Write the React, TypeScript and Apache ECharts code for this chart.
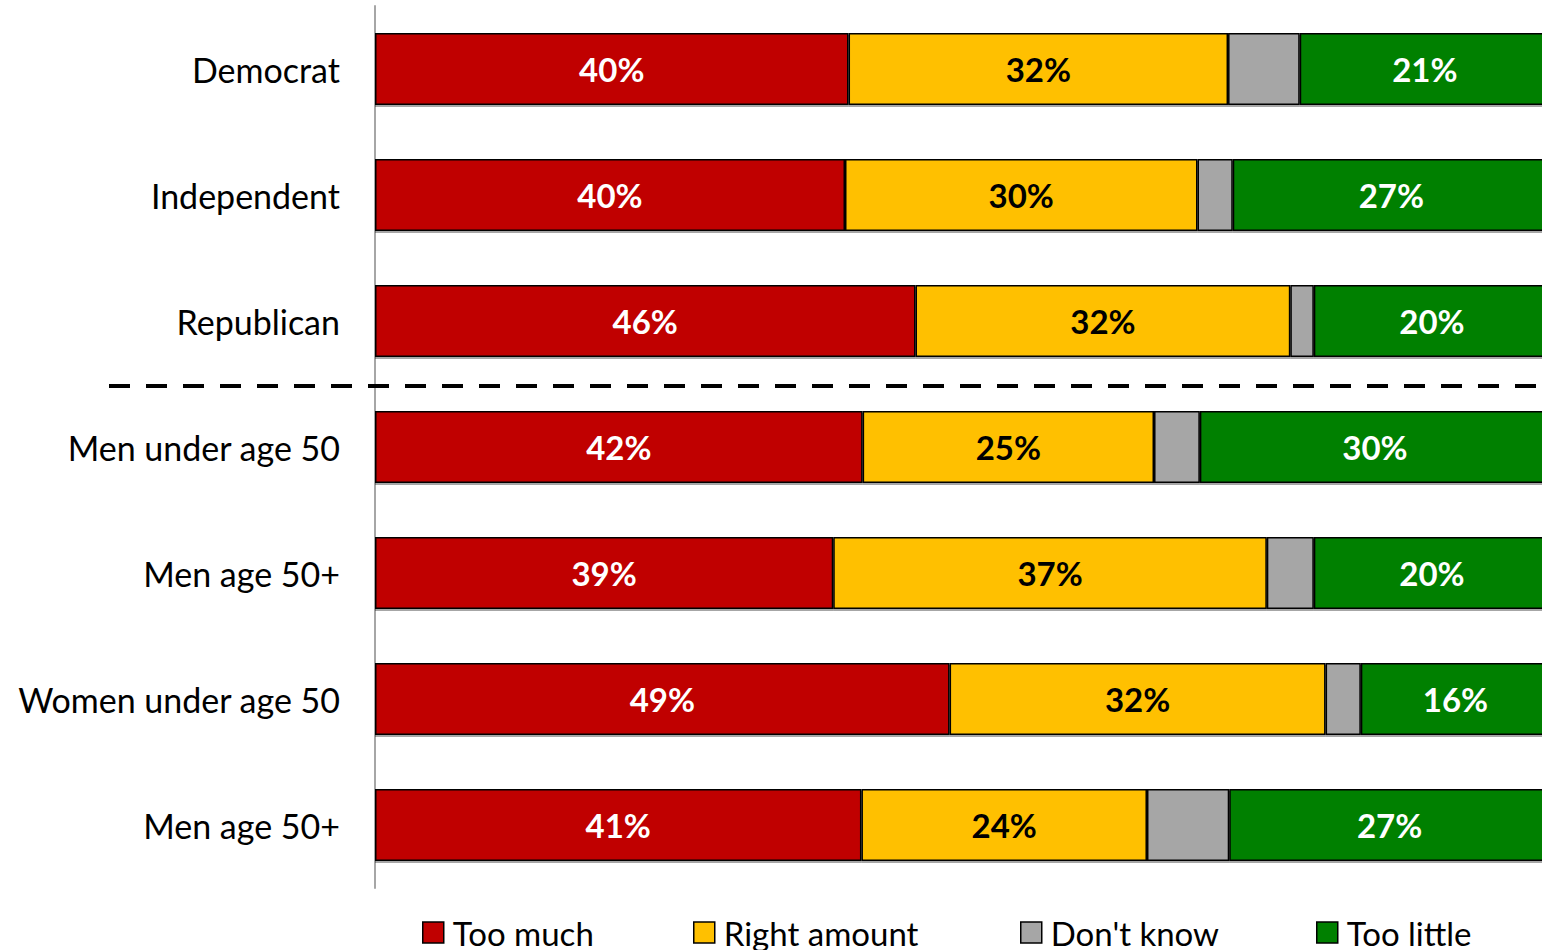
import React, { useEffect, useRef } from "react";
import * as echarts from "echarts";

const categories = [
  "Democrat",
  "Independent",
  "Republican",
  "Men under age 50",
  "Men age 50+",
  "Women under age 50",
  "Men age 50+ ",
];
const tooMuch = [40.3, 40.0, 46.0, 41.5, 39.0, 48.9, 41.4];
const rightAmount = [32.3, 30.0, 31.9, 24.8, 36.9, 32.0, 24.3];
const dontKnow = [6.1, 3.0, 2.0, 3.9, 4.0, 3.0, 7.0];
const tooLittle = [21.3, 27.0, 20.1, 29.8, 20.1, 16.1, 27.3];

const seriesNames = ["Too much", "Right amount", "Don't know", "Too little"];
const colors = ["#C00000", "#FFC000", "#A6A6A6", "#008000"];
const labelColors = ["#ffffff", "#000000", "#000000", "#ffffff"];
const legendLefts = [417, 688, 1015, 1311];

const FONT = "Lato, 'Open Sans', sans-serif";

export default function App() {
  const ref = useRef<HTMLDivElement>(null);
  useEffect(() => {
    if (!ref.current) return;
    const chart = echarts.init(ref.current, undefined, { renderer: "svg" });
    const dataSets = [tooMuch, rightAmount, dontKnow, tooLittle];
    const option: any = {
      animation: false,
      backgroundColor: "#ffffff",
      grid: { left: 375, right: 0, top: 6, bottom: 62, containLabel: false },
      xAxis: {
        type: "value",
        min: 0,
        max: 100,
        show: false,
      },
      yAxis: {
        type: "category",
        data: categories,
        inverse: true,
        axisLine: { show: true, lineStyle: { color: "#A6A6A6", width: 2 } },
        axisTick: { show: false },
        axisLabel: {
          color: "#000000",
          fontFamily: FONT,
          fontSize: 34,
          margin: 35,
          formatter: (v: string) => v.trim(),
        },
      },
      legend: seriesNames.map((n, i) => ({
        data: [n],
        left: legendLefts[i],
        top: 911,
        itemWidth: 21,
        itemHeight: 21,
        icon: "rect",
        itemStyle: { borderColor: "#000000", borderWidth: 1.5 },
        textStyle: {
          fontFamily: FONT,
          fontSize: 33,
          color: "#000000",
          padding: [0, 0, 0, 4],
        },
        selectedMode: false,
      })),
      series: seriesNames.map((n, i) => ({
        name: n,
        type: "bar",
        stack: "total",
        barWidth: 72,
        data: dataSets[i],
        itemStyle: {
          color: colors[i],
          borderColor: "#000000",
          borderWidth: 1.5,
          shadowColor: "rgba(0,0,0,0.35)",
          shadowOffsetY: 2,
          shadowBlur: 0,
        },
        label: {
          show: i !== 2,
          position: "inside",
          color: labelColors[i],
          fontFamily: FONT,
          fontWeight: "bold",
          fontSize: 33,
          formatter: (p: any) => Math.round(p.value) + "%",
        },
      })),
    };
    chart.setOption(option);
    const y1 = chart.convertToPixel({ yAxisIndex: 0 }, categories[2]) as number;
    const y2 = chart.convertToPixel({ yAxisIndex: 0 }, categories[3]) as number;
    const yMid = (y1 + y2) / 2 + 2;
    chart.setOption({
      graphic: [
        {
          type: "line",
          shape: { x1: 109, y1: yMid, x2: 1560, y2: yMid },
          style: { stroke: "#000000", lineWidth: 4, lineDash: [21, 16] },
          z: 100,
        },
      ],
    });
    return () => chart.dispose();
  }, []);
  return (
    <div
      style={{
        position: "absolute",
        left: 0,
        top: 0,
        width: 1542,
        height: 950,
        overflow: "hidden",
        background: "#fff",
      }}
    >
      <div ref={ref} style={{ width: 1550, height: 950 }} />
    </div>
  );
}
